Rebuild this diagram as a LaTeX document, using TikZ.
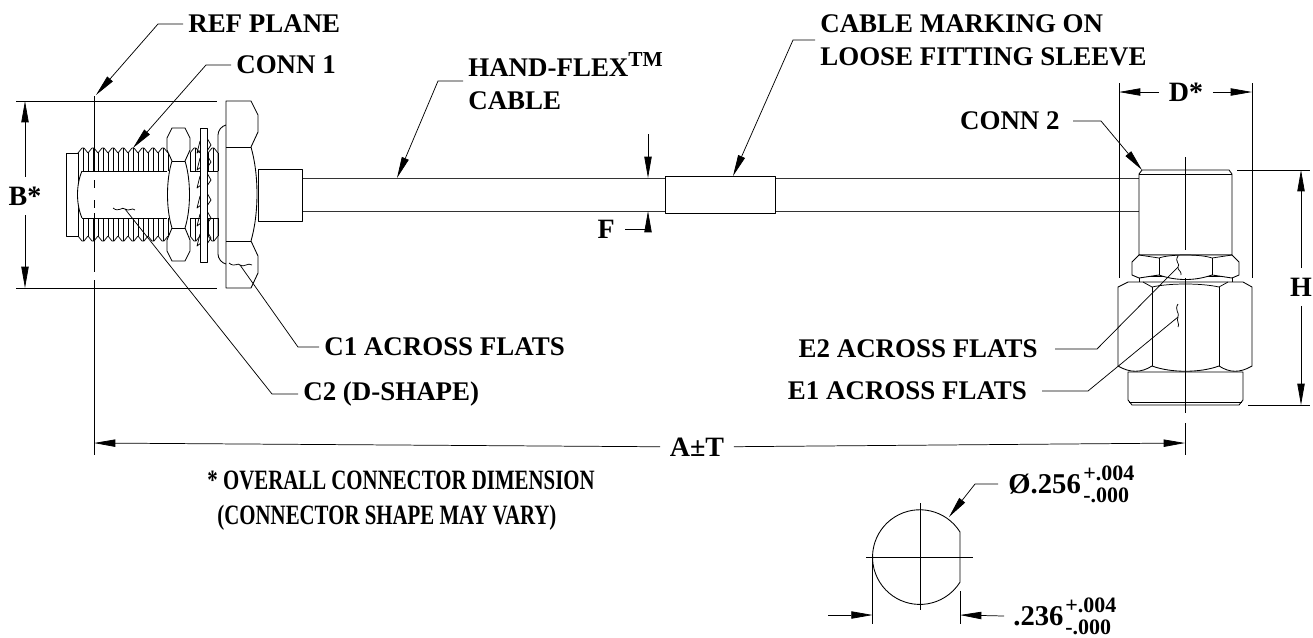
\documentclass[tikz,border=0pt]{standalone}
\usepackage{fontspec}
\setmainfont{Liberation Serif}
\newfontfamily\narrowfont[FakeStretch=0.745]{Liberation Serif}
\usetikzlibrary{arrows.meta}

\begin{document}
\begin{tikzpicture}[x=0.75pt,y=-0.75pt,>={Stealth[length=16pt,width=5.5pt,inset=0pt]},
                    line width=0.6pt,
                    part/.style={draw,fill=white,line width=0.65pt,line join=round},
                    outline/.style={draw,line width=0.55pt,line join=round},
                    thin line/.style={line width=0.55pt},
                    leader/.style={thin line,->},
                    main node/.style={inner sep=3.7pt,font=\fontsize{20.2}{24.75}\selectfont\bfseries,align=left},
                    big node/.style={inner ysep=0pt,inner xsep=7.5pt,font=\fontsize{21.5}{25}\selectfont\bfseries},
                    tol node/.style={inner sep=0pt,font=\fontsize{16.5}{18}\selectfont\bfseries},
                    note node/.style={inner sep=0pt,font=\fontsize{21}{25}\selectfont\narrowfont\bfseries},
                    dim node/.style={inner sep=7pt,font=\fontsize{21}{25}\selectfont\bfseries}]
  \useasboundingbox (0,0) rectangle (1313,637);

  % cable and sleeve
  \draw[part,draw=black!80] (302,178) rectangle (1140,211);
  \draw[part] (665,176) rectangle (775,213);

  % conn 1
  \draw[part] (258,169) rectangle (302,221);
  \draw[part] (66,153) rectangle (78,236);
  \foreach \yr/\yc/\yi in {153/148/171,236/241/218} {
    \foreach \x in {78,88,...,168} {
      \draw[outline] (\x,\yr) -- (\x+4,\yc) -- (\x+6,\yc) -- (\x+10,\yr);
      \draw[thin line] (\x,\yr) -- (\x,\yi) (\x+5,\yc) -- (\x+5,\yi);
    }
    \foreach \x in {190,208} {
      \draw[outline] (\x,\yr) -- (\x+4,\yc) -- (\x+6,\yc) -- (\x+10,\yr);
      \draw[thin line] (\x,\yr) -- (\x,\yi) (\x+5,\yc) -- (\x+5,\yi) (\x+10,\yr) -- (\x+10,\yi);
    }
    \draw[part] (82,\yi) -- (167,\yi) (190,\yi) -- (200,\yi) (208,\yi) -- (218,\yi);
  }
  \draw[part] (82,171) .. controls (76,185) and (76,204) .. (82,218);
  \foreach \y in {141,158,176,196,214,234} {
    \draw[outline] (200,\y) -- (197,\y+12) -- (201,\y+9);
    \draw[outline] (207,\y-3) -- (211,\y+4) -- (207,\y+10);
  }
  \draw[part] (172,128) -- (185,128) -- (190,138) -- (190,150) -- (185,161)
      .. controls (191,180) and (191,209) .. (185,228) -- (190,240) -- (190,251) -- (185,261)
      -- (172,261) -- (167,251) -- (167,240) -- (172,228)
      .. controls (166,209) and (166,180) .. (172,161) -- (167,150) -- (167,138) -- cycle;
  \draw[part] (172,161) -- (185,161) (172,228) -- (185,228);
  \draw[part] (200,128) rectangle (207,262);
  \draw[part,fill=none,rounded corners=6pt] (226,125) -- (218,127) -- (218,262) -- (226,264);
  \draw[part] (226,101) -- (251,101) -- (258,115) -- (258,132) -- (251,147)
      .. controls (259,175) and (259,213) .. (251,241) -- (258,256) -- (258,273) -- (251,288)
      -- (226,288) -- cycle;
  \draw[part] (226,147) -- (251,147) (226,241) -- (251,241);

  % conn 2
  \draw[part] (1128,372) -- (1243,372) -- (1243,400) -- (1239,405) -- (1132,405) -- (1128,400) -- cycle;
  \draw[thin line] (1129,402) -- (1242,402);
  \draw[part] (1139,276) rectangle (1232,283);
  \draw[part] (1142,170) -- (1229,170) -- (1232,174) -- (1232,255) -- (1139,255) -- (1139,174) -- cycle;
  \draw[thin line] (1139,174) -- (1232,174);
  \draw[part] (1139,255) -- (1232,255) -- (1239,262) -- (1239,275) -- (1232,278)
      -- (1212,275) .. controls (1195,281) and (1176,281) .. (1159,275) -- (1139,278)
      -- (1132,275) -- (1132,262) -- cycle;
  \draw[part] (1159,258) -- (1159,275) (1212,258) -- (1212,275);
  \draw[outline] (1139,255) -- (1159,258) .. controls (1170,254) and (1201,254) .. (1212,258) -- (1232,255);
  \draw[part] (1128,282) -- (1243,282) -- (1252,287) -- (1252,366)
      .. controls (1240,373) and (1230,373) .. (1219,366)
      .. controls (1200,373) and (1171,373) .. (1152,366)
      .. controls (1141,373) and (1130,373) .. (1118,366) -- (1118,287) -- cycle;
  \draw[part] (1152,287) -- (1152,366) (1219,287) -- (1219,366);
  \draw[outline] (1143,282) -- (1152,287) .. controls (1170,283) and (1201,283) .. (1219,287) -- (1228,282);

  % d-shape section
  \draw[part,fill=none] (960,532) arc[start angle=32,end angle=328,radius=35.5pt] -- cycle;
  \draw[thin line] (866,557) -- (973,557) (920,503) -- (920,610);
  \draw[thin line] (872.6,557) -- (872.6,624) (960,591) -- (960,624);

  % center lines
  \draw[thin line] (94,96) -- (94,172) (94,180) -- (94,188) (94,200) -- (94,208)
      (94,213) -- (94,272) (94,280) -- (94,455);
  \draw[thin line] (1185,157) -- (1185,250) (1185,278) -- (1185,413) (1185,423) -- (1185,455);

  % extension lines
  \draw[thin line] (16,101) -- (217,101) (16,288) -- (217,288);
  \draw[thin line] (1119,83) -- (1119,278) (1252,83) -- (1252,278);
  \draw[thin line] (1237,170) -- (1310,170) (1248,405) -- (1310,405);

  % labels
  \node[main node,anchor=west] (ref) at (183,24) {REF PLANE};
  \node[main node,anchor=west] (conn1) at (231,65) {CONN 1};
  \node[main node,anchor=west] (hand) at (463,81) {HAND-FLEX\raisebox{7pt}{\fontsize{16}{16}\selectfont TM}\\CABLE};
  \node[main node,anchor=west] (marking) at (815,40) {CABLE MARKING ON\\LOOSE FITTING SLEEVE};
  \node[main node,anchor=east,inner xsep=9.75pt] (conn2) at (1073,121) {CONN 2};
  \node[main node,anchor=west] (c1) at (319,347) {C1 ACROSS FLATS};
  \node[main node,anchor=west] (c2) at (298,394) {C2 (D-SHAPE)};
  \node[main node,anchor=east,inner xsep=12.75pt] (e2) at (1055,349) {E2 ACROSS FLATS};
  \node[main node,anchor=east,inner xsep=11pt] (e1) at (1042,391) {E1 ACROSS FLATS};
  \node[dim node,anchor=east,inner xsep=7.5pt] (f) at (625,229) {F};
  \node[dim node] (b) at (25,196) {B*};
  \node[dim node] (d) at (1186,92) {D*};
  \node[dim node] (h) at (1301,287) {H};
  \node[dim node] (a) at (697,447) {A±T};
  \node[note node,anchor=west] (note1) at (207,480) {* OVERALL CONNECTOR DIMENSION};
  \node[note node,anchor=west] (note2) at (217,518) {(CONNECTOR SHAPE MAY VARY)};
  \node[big node,anchor=west] (dia) at (998,484) {Ø.256};
  \node[tol node,anchor=west] (diaup) at (1083,473) {+.004};
  \node[tol node,anchor=west] (dialow) at (1083,495) {-.000};
  \node[big node,anchor=west,inner xsep=6.75pt] (flat) at (1004,616) {.236};
  \node[tol node,anchor=west] (flatup) at (1065,605) {+.004};
  \node[tol node,anchor=west] (flatlow) at (1065,627) {-.000};

  % end points
  \coordinate (reftip) at (96,95);
  \coordinate (conn1tip) at (133,148);
  \coordinate (handtip) at (397,178);
  \coordinate (markingtip) at (733,176);
  \coordinate (conn2tip) at (1142,170);
  \coordinate (c1tip) at (240,265);
  \coordinate (c2tip) at (125,209);
  \coordinate (e2tip) at (1178,267);
  \coordinate (e1tip) at (1178,317);
  \coordinate (ftop) at (648,178);
  \coordinate (fstart) at (648,134);
  \coordinate (fbottom) at (648,211);
  \coordinate (btop) at (25,101);
  \coordinate (bbottom) at (25,288);
  \coordinate (dleft) at (1119,92);
  \coordinate (dright) at (1252,92);
  \coordinate (htop) at (1301,170);
  \coordinate (hbottom) at (1301,405);
  \coordinate (aleft) at (94,443);
  \coordinate (aright) at (1185,443);
  \coordinate (diatip) at (949,517);
  \coordinate (flatleft) at (872.6,615);
  \coordinate (flatright) at (960,615);
  \coordinate (flatstart) at (828,615);

  % leaders
  \draw[leader] (ref.west) -- (158,24) -- (reftip);
  \draw[leader] (conn1.west) -- (206,65) -- (conn1tip);
  \draw[leader] (hand.west) -- (438,81) -- (handtip);
  \draw[leader] (marking.west) -- (793,40) -- (markingtip);
  \draw[leader] (conn2.east) -- (1101,121) -- (conn2tip);
  \draw[thin line] (c1.west) -- (298,347) -- (c1tip);
  \draw[thin line] (c2.west) -- (272,394) -- (c2tip);
  \draw[thin line] (e2.east) -- (1097,349) -- (e2tip);
  \draw[thin line] (e1.east) -- (1088,391) -- (e1tip);
  \draw[leader] (f.east) -- (648,229) -- (fbottom);
  \draw[leader] (fstart) -- (ftop);
  \draw[leader] (dia.west) -- (975,484) -- (diatip);
  \draw[leader] (flatstart) -- (flatleft);
  \draw[leader] (flat.west) -- (flatright);

  % dimensions
  \path[leader]
    (b) edge (btop)
    (b) edge (bbottom)
    (d) edge (dleft)
    (d) edge (dright)
    (h) edge (htop)
    (h) edge (hbottom)
    (a) edge (aleft)
    (a) edge (aright);

  % wiggles
  \draw[thin line] (113,208) .. controls (119,213) and (122,206) .. (125,209) .. controls (129,212) and (132,207) .. (135,210);
  \draw[thin line] (229,263) .. controls (235,268) and (238,262) .. (240,265) .. controls (244,268) and (248,262) .. (252,265);
  \draw[thin line] (1178,256) .. controls (1174,262) and (1181,264) .. (1178,267) .. controls (1177,270) and (1182,271) .. (1181,275);
  \draw[thin line] (1178,304) .. controls (1174,310) and (1180,313) .. (1178,317) .. controls (1176,321) and (1180,324) .. (1178,327);
\end{tikzpicture}
\end{document}
